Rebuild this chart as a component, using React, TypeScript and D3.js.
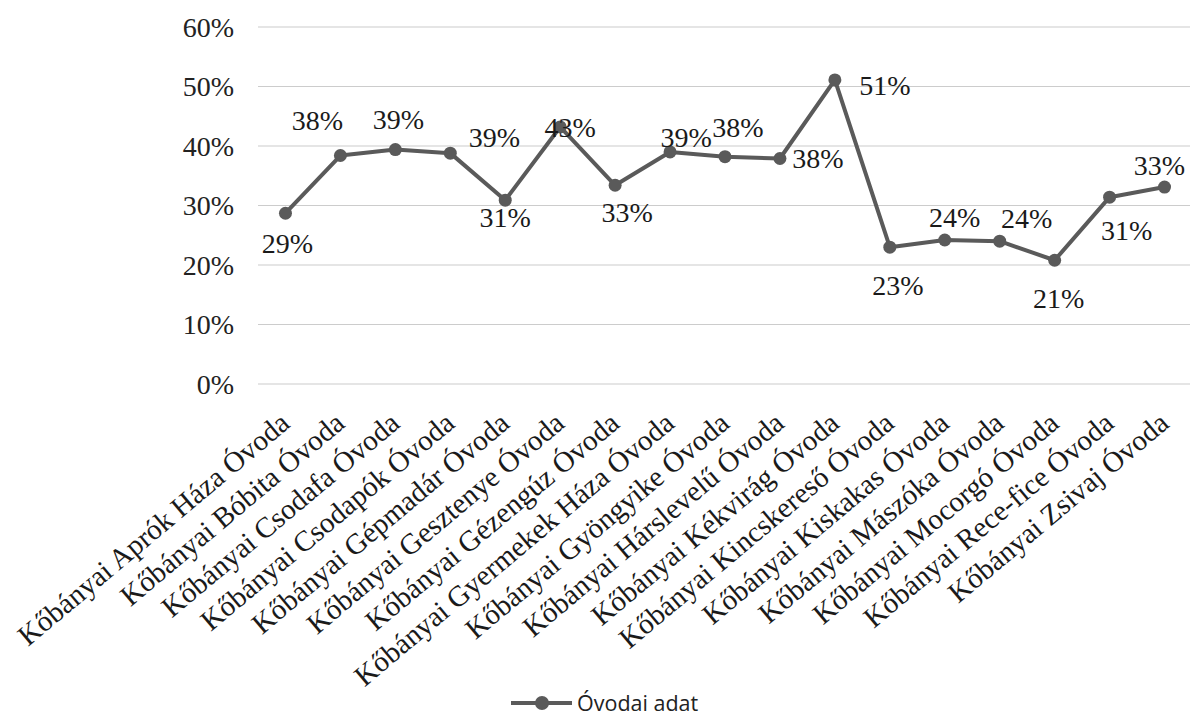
import React from 'react';
import * as d3 from 'd3';

// óvodák (x tengely)
const categories = [
  'Kőbányai Aprók Háza Óvoda',
  'Kőbányai Bóbita Óvoda',
  'Kőbányai Csodafa Óvoda',
  'Kőbányai Csodapók Óvoda',
  'Kőbányai Gépmadár Óvoda',
  'Kőbányai Gesztenye Óvoda',
  'Kőbányai Gézengúz Óvoda',
  'Kőbányai Gyermekek Háza Óvoda',
  'Kőbányai Gyöngyike Óvoda',
  'Kőbányai Hárslevelű Óvoda',
  'Kőbányai Kékvirág Óvoda',
  'Kőbányai Kincskereső Óvoda',
  'Kőbányai Kiskakas Óvoda',
  'Kőbányai Mászóka Óvoda',
  'Kőbányai Mocorgó Óvoda',
  'Kőbányai Rece-fice Óvoda',
  'Kőbányai Zsivaj Óvoda',
];

// Óvodai adat (%)
const values = [28.7, 38.4, 39.4, 38.8, 30.9, 43.2, 33.4, 39.0, 38.2, 37.9, 51.1, 23.0, 24.2, 24.0, 20.8, 31.4, 33.1];

const yTicks = [0, 10, 20, 30, 40, 50, 60];
const seriesName = 'Óvodai adat';

// adatcímkék eltolása a ponthoz képest (px)
const labelOffsets: [number, number][] = [
  [2, 30], [-23, -35], [3, -30], [44, -16], [0, 17], [10, 0], [12, 27], [16, -15], [13, -30],
  [38, 0], [50, 5], [8, 38], [10, -23], [27, -23], [4, 38], [17, 33], [-5, -22],
];

const W = 1193;
const H = 716;
const serif = '"Liberation Serif", "Times New Roman", serif';

export default function App() {
  const x = d3.scaleBand<string>().domain(categories).range([258, 1192]).padding(0);
  const y = d3.scaleLinear().domain([0, 60]).range([384, 27]);
  const cx = (c: string) => (x(c) ?? 0) + x.bandwidth() / 2;

  const line = d3.line<number>()
    .x((_, i) => cx(categories[i]))
    .y(d => y(d));

  const lineColor = '#5a5a5a';

  return (
    <svg width={W} height={H} style={{ position: 'absolute', left: 0, top: 0, background: '#fff' }}>
      {/* rácsvonalak + y tengely */}
      {yTicks.map(t => (
        <g key={t}>
          <line x1={258} x2={1190} y1={y(t)} y2={y(t)} stroke="#cccccc" strokeWidth={1.2} />
          <text x={234} y={y(t)} dy="0.35em" textAnchor="end" fontFamily={serif} fontSize={28} fill="#222">
            {t}%
          </text>
        </g>
      ))}

      {/* adatsor */}
      <path d={line(values) ?? ''} fill="none" stroke={lineColor} strokeWidth={4} strokeLinejoin="round" />
      {values.map((v, i) => (
        <circle key={i} cx={cx(categories[i])} cy={y(v)} r={6.5} fill={lineColor} />
      ))}

      {/* adatcímkék */}
      {values.map((v, i) => (
        <text
          key={'l' + i}
          x={cx(categories[i]) + labelOffsets[i][0]}
          y={y(v) + labelOffsets[i][1]}
          dy="0.35em"
          textAnchor="middle"
          fontFamily={serif}
          fontSize={28}
          fill="#1a1a1a"
        >
          {Math.round(v)}%
        </text>
      ))}

      {/* kategória címkék, ferdén */}
      {categories.map(c => (
        <text
          key={c}
          transform={`translate(${cx(c) + 6},${y(0) + 42}) rotate(-40)`}
          textAnchor="end"
          fontFamily={serif}
          fontSize={29}
          fill="#1a1a1a"
        >
          {c}
        </text>
      ))}

      {/* jelmagyarázat */}
      <g transform="translate(511,703)">
        <line x1={0} x2={61} y1={0} y2={0} stroke={lineColor} strokeWidth={4} />
        <circle cx={31} cy={0} r={7} fill={lineColor} />
        <text x={66} y={0} dy="0.35em" fontFamily='"Open Sans", "Noto Sans", sans-serif' fontSize={21.5} fill="#222">
          {seriesName}
        </text>
      </g>
    </svg>
  );
}
